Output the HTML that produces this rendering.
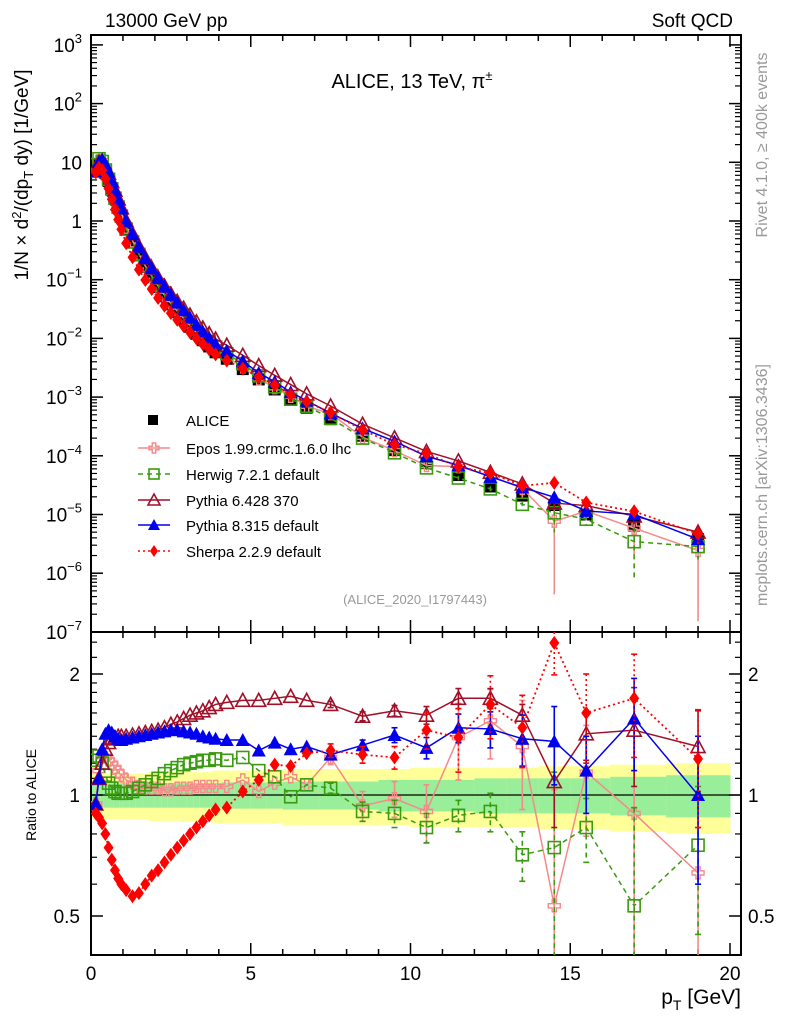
<!DOCTYPE html>
<html><head><meta charset="utf-8">
<style>
html,body{margin:0;padding:0;background:#fff;width:786px;height:1024px;overflow:hidden;}
svg{display:block;font-family:"Liberation Sans",sans-serif;}
</style></head>
<body>
<svg id="chart" width="786" height="1024" viewBox="0 0 786 1024" xmlns="http://www.w3.org/2000/svg">
<defs>
<clipPath id="clipMain"><rect x="91" y="35" width="650" height="597"/></clipPath>
<clipPath id="clipRatio"><rect x="91" y="632" width="650" height="323"/></clipPath>
</defs>
<g id="bands" clip-path="url(#clipRatio)"></g>
<g id="axes"></g>
<g id="mainMarks" clip-path="url(#clipMain)"></g>
<g id="ratioMarks" clip-path="url(#clipRatio)"></g>
<g id="legend"></g>
<text x="105" y="27" font-size="19">13000 GeV pp</text>
<text x="733" y="27" font-size="19" text-anchor="end">Soft QCD</text>
<text x="412" y="88" font-size="20" text-anchor="middle">ALICE, 13 TeV, π<tspan font-size="13" dy="-8">±</tspan></text>
<text x="415" y="604" font-size="13" fill="#999" text-anchor="middle">(ALICE_2020_I1797443)</text>
<text transform="translate(767,145) rotate(-90)" font-size="16" fill="#999" text-anchor="middle">Rivet 4.1.0, ≥ 400k events</text>
<text transform="translate(767,485) rotate(-90)" font-size="16" fill="#999" text-anchor="middle">mcplots.cern.ch [arXiv:1306.3436]</text>
<text transform="translate(28,175) rotate(-90)" font-size="19" text-anchor="middle">1/N × d<tspan font-size="13" dy="-7">2</tspan><tspan dy="7">/(dp</tspan><tspan font-size="13" dy="5">T</tspan><tspan dy="-5"> dy) [1/GeV]</tspan></text>
<text transform="translate(36,795) rotate(-90)" font-size="14" text-anchor="middle">Ratio to ALICE</text>
<text x="741" y="1004" font-size="21" text-anchor="end">p<tspan font-size="14" dy="6">T</tspan><tspan dy="-6"> [GeV]</tspan></text>
</svg>
<script>
const pt = [0.15,0.25,0.35,0.45,0.55,0.65,0.75,0.85,0.95,1.1,1.3,1.5,1.7,1.9,2.1,2.3,2.5,2.7,2.9,3.1,3.3,3.5,3.7,3.9,4.25,4.75,5.25,5.75,6.25,6.75,7.5,8.5,9.5,10.5,11.5,12.5,13.5,14.5,15.5,17,19];
const alice = [7.5,9.2,8.6,6.6,4.8,3.4,2.4,1.7,1.2,0.72,0.43,0.26,0.165,0.11,0.075,0.053,0.038,0.028,0.021,0.0158,0.012,0.0093,0.0073,0.0058,0.0045,0.0030,0.0020,0.00135,0.00093,0.00066,0.00042,0.00022,0.000125,7.5e-5,4.7e-5,3.0e-5,2.1e-5,1.45e-5,1.0e-5,6.5e-6,3.8e-6];
const ratioEpos = [0.95,1.15,1.25,1.24,1.22,1.2,1.17,1.14,1.12,1.09,1.07,1.05,1.04,1.04,1.04,1.03,1.03,1.04,1.04,1.04,1.05,1.05,1.05,1.05,1.05,1.09,1.02,1.07,1.11,1.06,1.24,0.94,0.98,0.91,1.39,1.53,1.32,0.53,1.14,0.9,0.64];
const ratioHerwig = [1.22,1.25,1.2,1.12,1.07,1.04,1.02,1.01,1.01,1.01,1.02,1.04,1.06,1.08,1.1,1.13,1.15,1.17,1.19,1.2,1.21,1.22,1.22,1.23,1.22,1.24,1.15,1.11,0.99,1.06,1.04,0.91,0.9,0.83,0.89,0.91,0.71,0.74,0.83,0.53,0.75];
const ratioPy6 = [0.95,1.1,1.2,1.3,1.35,1.38,1.39,1.4,1.4,1.4,1.41,1.42,1.43,1.44,1.45,1.47,1.5,1.52,1.55,1.58,1.6,1.62,1.65,1.68,1.7,1.72,1.72,1.74,1.76,1.72,1.68,1.57,1.62,1.58,1.74,1.74,1.58,1.08,1.42,1.45,1.32];
const ratioPy8 = [0.95,1.1,1.3,1.42,1.45,1.43,1.4,1.38,1.37,1.38,1.39,1.4,1.41,1.42,1.43,1.44,1.45,1.45,1.44,1.43,1.42,1.4,1.39,1.38,1.37,1.37,1.29,1.35,1.3,1.32,1.26,1.33,1.41,1.31,1.47,1.46,1.38,1.36,1.15,1.55,1.0];
const ratioSherpa = [0.9,0.88,0.85,0.8,0.74,0.69,0.65,0.62,0.6,0.58,0.56,0.57,0.6,0.63,0.65,0.68,0.71,0.74,0.77,0.8,0.83,0.86,0.89,0.92,0.93,1.02,1.09,1.19,1.18,1.27,1.29,1.26,1.24,1.45,1.39,1.68,1.47,2.39,1.6,1.74,1.23];
// ratio errors for the last 11 points (7.5 .. 19 GeV)
const errEpos = [0.05,0.08,0.1,0.15,0.3,0.3,0.4,0.5,0.35,0.6,0.6];
const errHerwig = [0.03,0.05,0.07,0.07,0.08,0.1,0.1,0.4,0.15,0.4,0.3];
const errPy6 = [0.03,0.04,0.05,0.08,0.1,0.1,0.1,0.25,0.2,0.4,0.3];
const errPy8 = [0.03,0.04,0.06,0.08,0.12,0.15,0.2,0.3,0.25,0.4,0.4];
const errSherpa = [0.05,0.06,0.08,0.15,0.25,0.3,0.3,0.4,0.4,0.5,0.4];
const bandGreen = [0.07,0.07,0.07,0.07,0.07,0.07,0.07,0.07,0.07,0.07,0.07,0.07,0.07,0.07,0.07,0.07,0.07,0.07,0.07,0.07,0.07,0.07,0.07,0.07,0.075,0.075,0.075,0.075,0.08,0.08,0.08,0.08,0.09,0.09,0.09,0.1,0.1,0.1,0.1,0.11,0.12];
const bandYellow = [0.13,0.13,0.13,0.13,0.13,0.13,0.13,0.13,0.13,0.13,0.13,0.13,0.13,0.14,0.14,0.14,0.14,0.14,0.14,0.14,0.14,0.14,0.14,0.15,0.15,0.15,0.15,0.15,0.16,0.16,0.16,0.16,0.16,0.17,0.17,0.17,0.17,0.18,0.18,0.19,0.2];
const xTicks = [0,5,10,15,20];
const mainExps = [3,2,1,0,-1,-2,-3,-4,-5,-6,-7];
const ratioTicks = [0.5,1,2];

const NS='http://www.w3.org/2000/svg';
const X = v => 91 + v*31.95;
const Y = v => 221 - Math.log10(v)*58.7;
const R = v => 795 - Math.log2(v)*121;
const clampR = y => Math.min(Math.max(y,632),955);
const clampY = y => Math.min(Math.max(y,35),632);
function mk(tag, attrs, parent){const e=document.createElementNS(NS,tag);for(const k in attrs)e.setAttribute(k,attrs[k]);parent.appendChild(e);return e;}
const axes=document.getElementById('axes');
const bands=document.getElementById('bands');
const mainG=document.getElementById('mainMarks');
const ratioG=document.getElementById('ratioMarks');
const legG=document.getElementById('legend');

for(let i=0;i<pt.length;i++){
  const lo = i===0 ? 0 : (pt[i-1]+pt[i])/2;
  const hi = i===pt.length-1 ? 20 : (pt[i]+pt[i+1])/2;
  const y1=mk('rect',{x:X(lo),y:R(1+bandYellow[i]),width:X(hi)-X(lo)+0.5,height:R(1-bandYellow[i])-R(1+bandYellow[i]),fill:'#ffff99'},bands);
  
  
  const g1=mk('rect',{x:X(lo),y:R(1+bandGreen[i]),width:X(hi)-X(lo)+0.5,height:R(1-bandGreen[i])-R(1+bandGreen[i]),fill:'#99ee99'},bands);
  
  
}

const f1=mk('rect',{x:91,y:35,width:650,height:597,fill:'none',stroke:'#000','stroke-width':2},axes);


const f2=mk('rect',{x:91,y:632,width:650,height:323,fill:'none',stroke:'#000','stroke-width':2},axes);


const one=mk('line',{x1:91,x2:741,y1:R(1),y2:R(1),stroke:'#000','stroke-width':1.2},axes);



for(let v=0;v<=20;v++){
  const L = v%5===0?12:6;
  for(const [yb,yt] of [[632,35],[955,632]]){
    mk('line',{x1:X(v),x2:X(v),y1:yb,y2:yb-L,stroke:'#000','stroke-width':1.5},axes);
    mk('line',{x1:X(v),x2:X(v),y1:yt,y2:yt+L,stroke:'#000','stroke-width':1.5},axes);
  }
}
xTicks.forEach(v=>{
  const t=mk('text',{x:X(v),y:980,'font-size':19,'text-anchor':'middle'},axes);
  t.textContent=String(v);
  
  
});
mainExps.forEach(e=>{
  const y=Y(Math.pow(10,e));
  mk('line',{x1:91,x2:103,y1:y,y2:y,stroke:'#000','stroke-width':1.5},axes);
  mk('line',{x1:741,x2:729,y1:y,y2:y,stroke:'#000','stroke-width':1.5},axes);
  if(e<3){for(let m=2;m<=9;m++){const ym=Y(m*Math.pow(10,e));
    mk('line',{x1:91,x2:97,y1:ym,y2:ym,stroke:'#000','stroke-width':1.2},axes);
    mk('line',{x1:741,x2:735,y1:ym,y2:ym,stroke:'#000','stroke-width':1.2},axes);}}
  const t=mk('text',{x:82,y:y+7,'font-size':19,'text-anchor':'end'},axes);
  
  
  if(e===0) t.textContent='1';
  else if(e===1) t.textContent='10';
  else { const a=mk('tspan',{},t); a.textContent='10'; const b=mk('tspan',{'font-size':13,dy:-9},t); b.textContent=String(e).replace('-','−'); }
});
const rMinor=[0.4,0.6,0.7,0.8,0.9,1.1,1.2,1.3,1.4,1.5,1.6,1.7,1.8,1.9,2.2,2.4];
rMinor.forEach(v=>{const y=R(v);
  mk('line',{x1:91,x2:97,y1:y,y2:y,stroke:'#000','stroke-width':1.2},axes);
  mk('line',{x1:741,x2:735,y1:y,y2:y,stroke:'#000','stroke-width':1.2},axes);});
ratioTicks.forEach(v=>{const y=R(v);
  mk('line',{x1:91,x2:103,y1:y,y2:y,stroke:'#000','stroke-width':1.5},axes);
  mk('line',{x1:741,x2:729,y1:y,y2:y,stroke:'#000','stroke-width':1.5},axes);
  const t=mk('text',{x:80,y:y+7,'font-size':19,'text-anchor':'end'},axes); t.textContent=String(v);
  
  
  const t2=mk('text',{x:748,y:y+7,'font-size':19},axes); t2.textContent=String(v);
  
  
});

function marker(g,type,x,y,col,s){
  s=s||6;
  let e;
  if(type==='square'){e=mk('rect',{x:x-s,y:y-s,width:2*s,height:2*s,fill:col},g);}
  else if(type==='osquare'){e=mk('rect',{x:x-s,y:y-s,width:2*s,height:2*s,fill:'none',stroke:col,'stroke-width':1.6},g);}
  else if(type==='cross'){const a=s*0.35;e=mk('path',{d:`M${x-a} ${y-s}h${2*a}v${s-a}h${s-a}v${2*a}h${-(s-a)}v${s-a}h${-2*a}v${-(s-a)}h${-(s-a)}v${-2*a}h${s-a}z`,fill:'none',stroke:col,'stroke-width':1.4},g);}
  else if(type==='otri'){e=mk('path',{d:`M${x} ${y-s-1}L${x+s+1} ${y+s}L${x-s-1} ${y+s}Z`,fill:'none',stroke:col,'stroke-width':1.6},g);}
  else if(type==='tri'){e=mk('path',{d:`M${x} ${y-s-1}L${x+s+1} ${y+s}L${x-s-1} ${y+s}Z`,fill:col},g);}
  else if(type==='diamond'){e=mk('path',{d:`M${x} ${y-s-1}L${x+s-1} ${y}L${x} ${y+s+1}L${x-s+1} ${y}Z`,fill:col},g);}
  return e;
}

const series=[
  {name:'epos',label:'Epos 1.99.crmc.1.6.0 lhc',ratio:ratioEpos,err:errEpos,col:'#f58a8a',type:'cross',dash:''},
  {name:'herwig',label:'Herwig 7.2.1 default',ratio:ratioHerwig,err:errHerwig,col:'#3a9a10',type:'osquare',dash:'5,4'},
  {name:'pythia6',label:'Pythia 6.428 370',ratio:ratioPy6,err:errPy6,col:'#a01028',type:'otri',dash:''},
  {name:'pythia8',label:'Pythia 8.315 default',ratio:ratioPy8,err:errPy8,col:'#0000ee',type:'tri',dash:''},
  {name:'sherpa',label:'Sherpa 2.2.9 default',ratio:ratioSherpa,err:errSherpa,col:'#ff0000',type:'diamond',dash:'2,3'}
];
const off = pt.length - 11;

const ga=mk('g',{},mainG);


pt.forEach((p,i)=>{
  const m=marker(ga,'square',X(p),Y(alice[i]),'#000',6);
  
  
});

series.forEach(s=>{
  const gm=mk('g',{},mainG);
  
  
  const gr=mk('g',{},ratioG);
  
  
  const pm=pt.map((p,i)=>X(p)+','+clampY(Y(alice[i]*s.ratio[i]))).join(' ');
  const pr=pt.map((p,i)=>X(p)+','+clampR(R(s.ratio[i]))).join(' ');
  const lw = s.dash==='2,3'?1.8:1.5;
  mk('polyline',{points:pm,fill:'none',stroke:s.col,'stroke-width':lw,'stroke-dasharray':s.dash},gm);
  mk('polyline',{points:pr,fill:'none',stroke:s.col,'stroke-width':lw,'stroke-dasharray':s.dash},gr);
  s.err.forEach((e,j)=>{
    const i=off+j, x=X(pt[i]), r=s.ratio[i];
    const hi=r+e, lo=Math.max(r-e,0.01);
    const yh=clampR(R(hi)), yl=clampR(R(lo));
    mk('line',{x1:x,x2:x,y1:yh,y2:yl,stroke:s.col,'stroke-width':1.6,'stroke-dasharray':s.dash},gr);
    if(yh>632) mk('line',{x1:x-3,x2:x+3,y1:yh,y2:yh,stroke:s.col,'stroke-width':1.6},gr);
    if(yl<955) mk('line',{x1:x-3,x2:x+3,y1:yl,y2:yl,stroke:s.col,'stroke-width':1.6},gr);
    mk('line',{x1:x,x2:x,y1:clampY(Y(alice[i]*hi)),y2:clampY(Y(alice[i]*lo)),stroke:s.col,'stroke-width':1.6,'stroke-dasharray':s.dash},gm);
  });
  pt.forEach((p,i)=>{
    const m1=marker(gm,s.type,X(p),Y(alice[i]*s.ratio[i]),s.col);
    
    
    const m2=marker(gr,s.type,X(p),R(s.ratio[i]),s.col);
    
    
  });
});

const legY=[420,448,474,500,525,551];
const la=marker(legG,'square',153,legY[0],'#000',5);


const lt=mk('text',{x:186,y:legY[0]+6,'font-size':15},legG); lt.textContent='ALICE';


series.forEach((s,k)=>{
  const y=legY[k+1];
  const ln=mk('line',{x1:138,x2:170,y1:y,y2:y,stroke:s.col,'stroke-width':1.5,'stroke-dasharray':s.dash},legG);
  
  
  const m=marker(legG,s.type,154,y,s.col,5);
  
  
  const t=mk('text',{x:186,y:y+6,'font-size':15},legG); t.textContent=s.label;
  
  
});
</script>
</body></html>
